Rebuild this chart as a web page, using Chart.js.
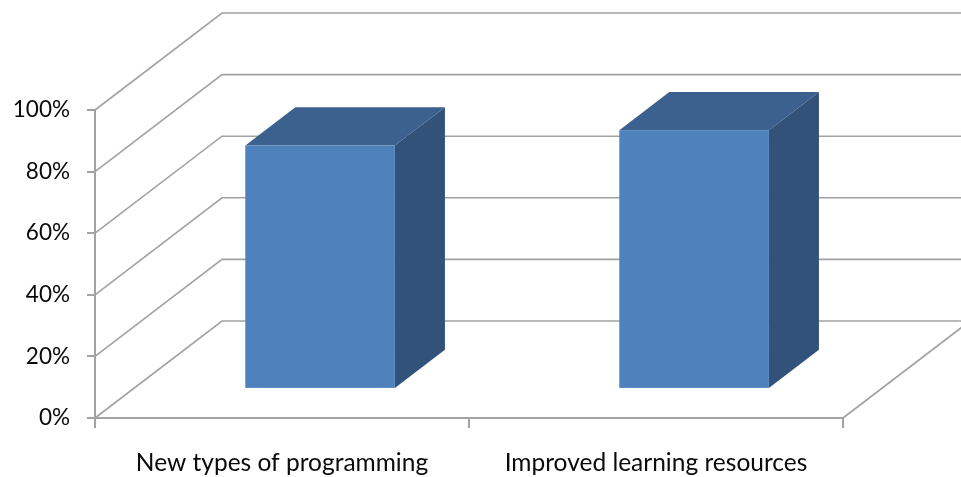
<!DOCTYPE html>
<html>
<head>
<meta charset="utf-8">
<script src="https://cdn.jsdelivr.net/npm/chart.js@4"></script>
<style>
  html, body { margin: 0; background: #fff; }
  #wrap { width: 961px; height: 477px; }
</style>
</head>
<body>
<div id="wrap"><canvas id="chart"></canvas></div>
<script>
// data
const categories = ['New types of programming', 'Improved learning resources'];
const shares = [79, 84];
const yTicks = [0, 20, 40, 60, 80, 100];

// 3d look (Excel style box)
const DEPTH_X = 127, DEPTH_Y = -97;
const BAR_FRONT = 0.3, BAR_BACK = 0.694;
const GRID = '#a2a2a2';
const FRONT = '#4f81bd', TOP = '#3c618e', SIDE = '#32527a';

const box3d = {
    id: 'box3d',
    beforeDatasetsDraw(chart) {
        const { ctx, chartArea: a, scales: { y } } = chart;
        ctx.save();
        ctx.strokeStyle = GRID;
        ctx.lineWidth = 1.6;
        // side wall diagonals + back wall gridlines
        yTicks.forEach(v => {
            const py = y.getPixelForValue(v);
            ctx.beginPath();
            ctx.moveTo(a.left, py);
            ctx.lineTo(a.left + DEPTH_X, py + DEPTH_Y);
            ctx.lineTo(a.right + DEPTH_X, py + DEPTH_Y);
            ctx.stroke();
        });
        // floor right edge
        ctx.beginPath();
        ctx.moveTo(a.right, a.bottom);
        ctx.lineTo(a.right + DEPTH_X, a.bottom + DEPTH_Y);
        ctx.stroke();
        ctx.restore();
    },
    afterDatasetsDraw(chart) {
        const ctx = chart.ctx;
        const fx = DEPTH_X * BAR_FRONT, fy = DEPTH_Y * BAR_FRONT;
        const bx = DEPTH_X * BAR_BACK, by = DEPTH_Y * BAR_BACK;
        ctx.save();
        chart.getDatasetMeta(0).data.forEach(bar => {
            const { x, y, base, width } = bar.getProps(['x', 'y', 'base', 'width'], true);
            const l = x - width / 2, r = x + width / 2;
            // top
            ctx.fillStyle = TOP;
            ctx.beginPath();
            ctx.moveTo(l + fx, y + fy);
            ctx.lineTo(l + bx, y + by);
            ctx.lineTo(r + bx, y + by);
            ctx.lineTo(r + fx, y + fy);
            ctx.closePath();
            ctx.fill();
            // side
            ctx.fillStyle = SIDE;
            ctx.beginPath();
            ctx.moveTo(r + fx, y + fy);
            ctx.lineTo(r + bx, y + by);
            ctx.lineTo(r + bx, base + by);
            ctx.lineTo(r + fx, base + fy);
            ctx.closePath();
            ctx.fill();
            // front
            ctx.fillStyle = FRONT;
            ctx.fillRect(l + fx, y + fy, width, base - y);
        });
        ctx.restore();
    }
};

Chart.defaults.font.family = "Lato, 'Open Sans', sans-serif";
Chart.defaults.color = '#0a0a0a';

new Chart(document.getElementById('chart'), {
    type: 'bar',
    data: {
        labels: categories,
        datasets: [{
            data: shares,
            backgroundColor: 'rgba(0,0,0,0)',
            borderWidth: 0,
            barPercentage: 0.4,
            categoryPercentage: 1
        }]
    },
    options: {
        responsive: true,
        maintainAspectRatio: false,
        animation: false,
        layout: { padding: { left: 0, top: 110, right: 118, bottom: 0 } },
        plugins: { legend: { display: false }, tooltip: { enabled: false } },
        scales: {
            x: {
                afterFit(scale) { scale.height = 59; },
                grid: { drawOnChartArea: false, drawTicks: true, tickLength: 10, color: GRID, lineWidth: 2 },
                border: { display: true, color: GRID, width: 2 },
                ticks: { font: { size: 24.5 }, padding: 20, maxRotation: 0 }
            },
            y: {
                min: 0,
                max: 100,
                afterFit(scale) { scale.width = 95; },
                afterBuildTicks(scale) { scale.ticks = yTicks.map(v => ({ value: v })); },
                grid: { drawOnChartArea: false, drawTicks: true, tickLength: 8, color: GRID, lineWidth: 2 },
                border: { display: true, color: GRID, width: 2 },
                ticks: { font: { size: 22.5 }, padding: 17, callback: v => v + '%' }
            }
        }
    },
    plugins: [box3d]
});
</script>
</body>
</html>
